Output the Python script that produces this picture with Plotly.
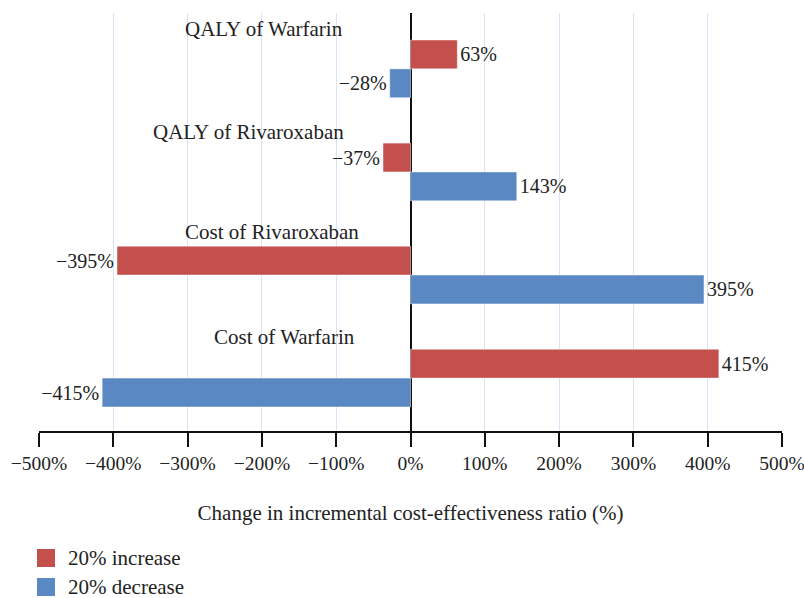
import plotly.graph_objects as go

categories = ["QALY of Warfarin", "QALY of Rivaroxaban", "Cost of Rivaroxaban", "Cost of Warfarin"]
increase_vals = [63, -37, -395, 415]
decrease_vals = [-28, 143, 395, -415]
series_names = ["20% increase", "20% decrease"]
tick_vals = [-500, -400, -300, -200, -100, 0, 100, 200, 300, 400, 500]
tick_text = ["−500%", "−400%", "−300%", "−200%", "−100%", "0%", "100%", "200%", "300%", "400%", "500%"]
x_title = "Change in incremental cost-effectiveness ratio (%)"

RED = "#C4504D"
BLUE = "#5A88C3"
FONT = "Liberation Serif"
TXT = "#222222"

W, H = 804, 598
ML, MR, MT, MB = 39, 22, 13, 167
PW, PH = W - ML - MR, H - MT - MB


def px2paper_x(px):
    return (px - ML) / PW


def px2paper_y(py):
    return (H - MB - py) / PH


def fmt(v):
    return f"{v}%".replace("-", "−")


idx = list(range(len(categories)))
fig = go.Figure()
for name, vals, col in [(series_names[0], increase_vals, RED), (series_names[1], decrease_vals, BLUE)]:
    fig.add_trace(go.Bar(
        y=idx, x=vals, orientation="h", name=name,
        marker=dict(color=col, line=dict(color="rgba(255,255,255,0.45)", width=1)),
        text=[fmt(v) for v in vals], textposition="outside", cliponaxis=False,
        constraintext="none",
        textfont=dict(family=FONT, size=20, color=TXT),
        showlegend=False, hoverinfo="skip",
    ))

# category label annotations (positioned relative to each category)
label_dx = [-197, -218, -187, -169]
label_dy = [-0.385, -0.385, -0.415, -0.40]
for i, (c, dx, dy) in enumerate(zip(categories, label_dx, label_dy)):
    fig.add_annotation(x=dx, y=i + dy, xref="x", yref="y",
                       text=c, showarrow=False, xanchor="center", yanchor="middle",
                       font=dict(family=FONT, size=21, color=TXT))

# legend drawn as swatches + text (paper coordinates)
legend_rows = [(series_names[0], RED, 549), (series_names[1], BLUE, 578)]
for name, col, top in legend_rows:
    fig.add_shape(type="rect", xref="paper", yref="paper",
                  x0=px2paper_x(37), x1=px2paper_x(55),
                  y0=px2paper_y(top + 18), y1=px2paper_y(top),
                  fillcolor=col, line=dict(width=0))
    fig.add_annotation(xref="paper", yref="paper", x=px2paper_x(66), y=px2paper_y(top + 9),
                       text=name, showarrow=False, xanchor="left", yanchor="middle",
                       font=dict(family=FONT, size=21, color=TXT))

fig.update_layout(
    width=W, height=H,
    margin=dict(l=ML, r=MR, t=MT, b=MB, autoexpand=False),
    paper_bgcolor="white", plot_bgcolor="white",
    barmode="group", bargap=0.44, bargroupgap=0,
    font=dict(family=FONT, size=20, color=TXT),
    showlegend=False,
)
fig.update_xaxes(
    range=[-500, 500], tickvals=tick_vals, ticktext=tick_text,
    showgrid=True, gridcolor="#D8E3F5", gridwidth=1,
    zeroline=True, zerolinecolor="#111111", zerolinewidth=2,
    showline=True, linecolor="#111111", linewidth=2,
    ticks="outside", ticklen=14, tickwidth=2, tickcolor="#111111",
    tickfont=dict(family=FONT, size=19.5, color=TXT),
    ticklabeloverflow="allow", automargin=False,
    title=dict(text=x_title, font=dict(family=FONT, size=21, color=TXT), standoff=32),
    layer="above traces",
)
fig.update_yaxes(
    range=[3.513, -0.542], showgrid=False, zeroline=False, showline=False,
    showticklabels=False, ticks="", automargin=False,
)

fig.write_html("out.html", config={"displayModeBar": False})

# remove the default page margin so the figure sits at the window's top-left corner
with open("out.html", "r", encoding="utf-8") as f:
    html = f.read()
html = html.replace("<head>", "<head><style>html,body{margin:0;padding:0;overflow:hidden;}</style>", 1)
with open("out.html", "w", encoding="utf-8") as f:
    f.write(html)
